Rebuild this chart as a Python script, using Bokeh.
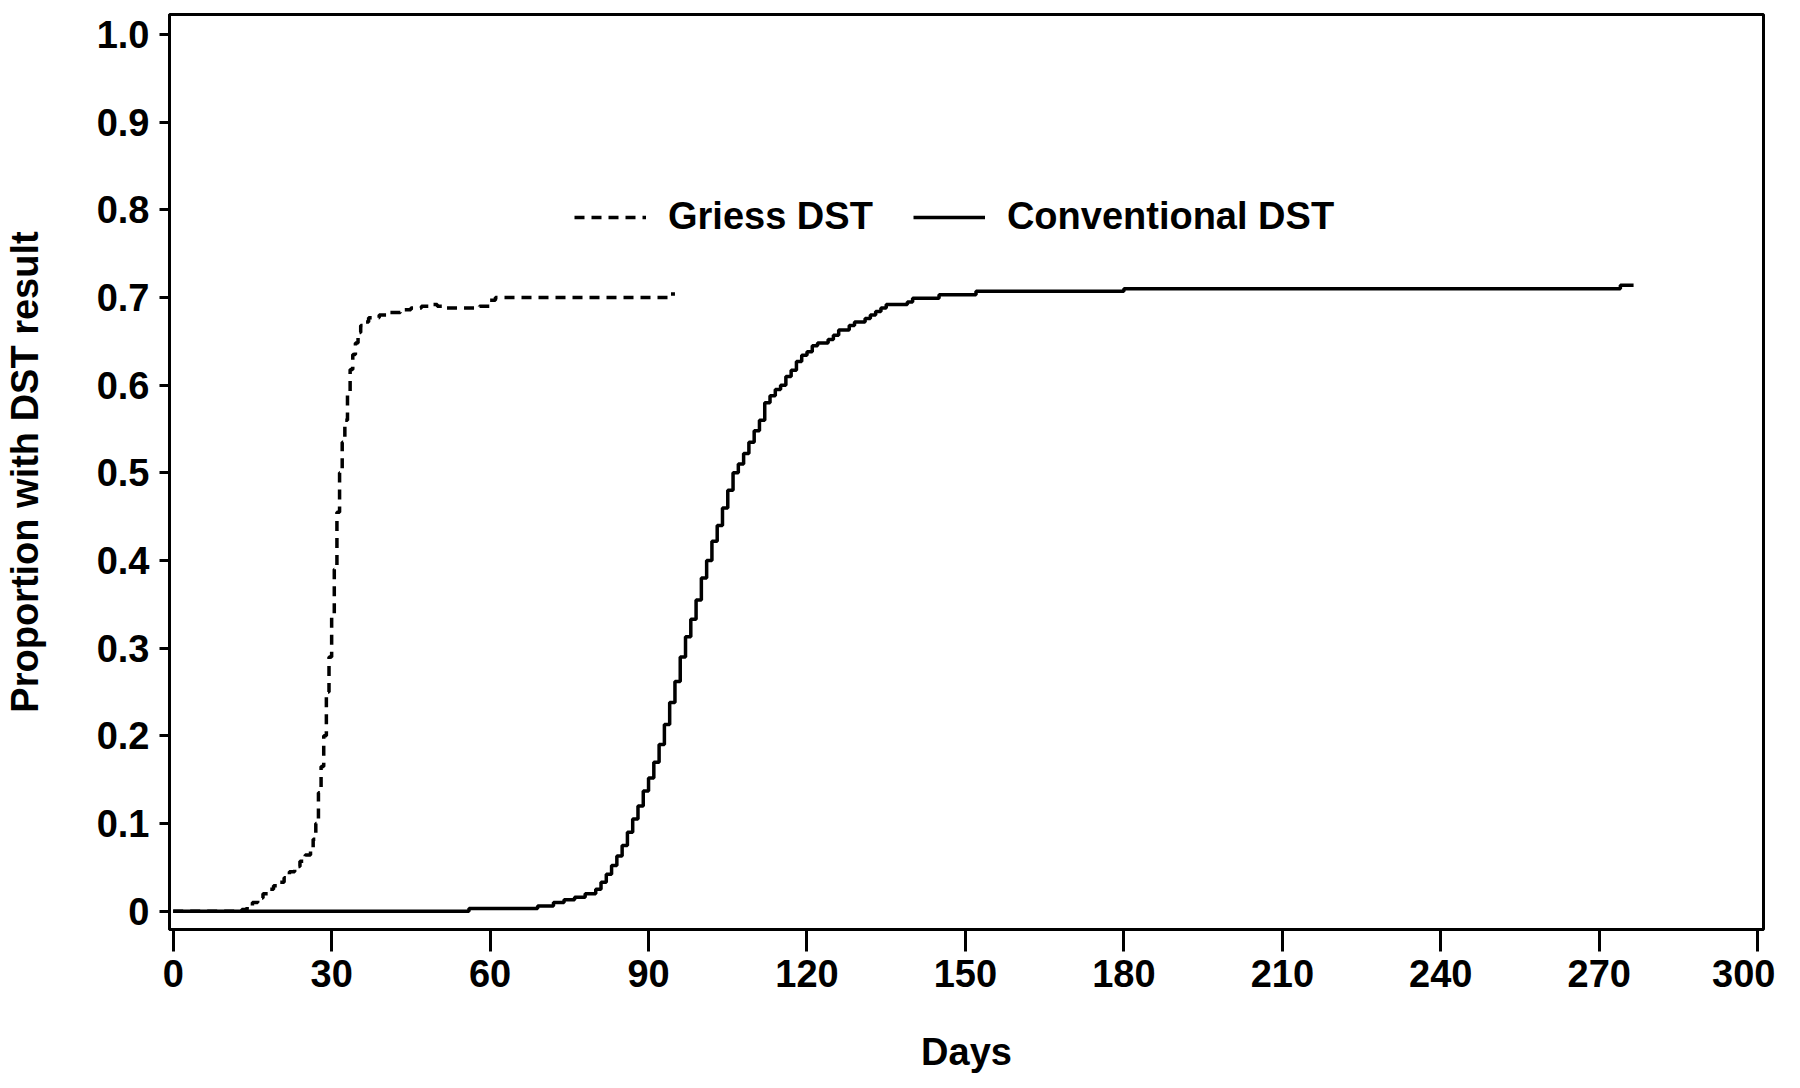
from bokeh.plotting import figure
from bokeh.models import Range1d, FixedTicker, Legend, LegendItem
from bokeh.embed import file_html
from bokeh.resources import INLINE

# ---- data (cumulative proportion with DST result) ----
griess_days = [0, 13, 14, 15, 16, 17, 18, 19, 20, 21, 22, 23, 24, 25, 26, 26.5,
               27, 27.5, 28, 28.5, 29, 29.5, 30, 30.5, 31, 31.5, 32, 32.5, 33,
               33.5, 34, 34.5, 35, 35.5, 36, 37, 39, 41, 43, 45, 47, 49, 50, 51,
               58, 60, 61, 94, 95]
griess_prop = [0, 0.002, 0.006, 0.010, 0.015, 0.020, 0.025, 0.029, 0.033, 0.038,
               0.045, 0.051, 0.057, 0.064, 0.072, 0.082, 0.100, 0.135, 0.165,
               0.200, 0.250, 0.290, 0.335, 0.390, 0.455, 0.500, 0.535, 0.560,
               0.590, 0.618, 0.635, 0.648, 0.660, 0.668, 0.672, 0.677, 0.680,
               0.683, 0.686, 0.688, 0.690, 0.692, 0.690, 0.688, 0.690, 0.697,
               0.700, 0.704, 0.704]

conv_days = [0, 56, 69, 72, 74, 76, 78, 80, 81, 82, 83, 84, 85, 86, 87, 88, 89,
             90, 91, 92, 93, 94, 95, 96, 97, 98, 99, 100, 101, 102, 103, 104,
             105, 106, 107, 108, 109, 110, 111, 112, 113, 114, 115, 116, 117,
             118, 119, 120, 121, 122, 124, 125, 126, 128, 129, 131, 132, 133,
             134, 135, 139, 140, 145, 152, 180, 274, 276.5]
conv_prop = [0, 0.003, 0.006, 0.010, 0.013, 0.016, 0.020, 0.025, 0.033, 0.042,
             0.052, 0.063, 0.075, 0.090, 0.105, 0.120, 0.137, 0.152, 0.170,
             0.190, 0.213, 0.238, 0.262, 0.290, 0.313, 0.333, 0.355, 0.380,
             0.400, 0.422, 0.440, 0.460, 0.480, 0.500, 0.510, 0.522, 0.535,
             0.548, 0.560, 0.580, 0.588, 0.595, 0.600, 0.610, 0.617, 0.627,
             0.634, 0.638, 0.645, 0.648, 0.652, 0.657, 0.663, 0.668, 0.672,
             0.676, 0.680, 0.684, 0.688, 0.692, 0.695, 0.699, 0.703, 0.707,
             0.710, 0.714, 0.714]

x_ticks = [0, 30, 60, 90, 120, 150, 180, 210, 240, 270, 300]
y_ticks = [0, 0.1, 0.2, 0.3, 0.4, 0.5, 0.6, 0.7, 0.8, 0.9, 1.0]
y_tick_labels = ["0", "0.1", "0.2", "0.3", "0.4", "0.5", "0.6", "0.7", "0.8", "0.9", "1.0"]
series_names = ["Griess DST", "Conventional DST"]

FONT = "Liberation Sans"
FS = "38px"

p = figure(frame_width=1594, frame_height=915,
           x_range=Range1d(-0.7, 301.1), y_range=Range1d(-0.0209, 1.0228),
           output_backend="svg", toolbar_location=None,
           min_border_left=168, min_border_top=14, min_border_right=12,
           min_border_bottom=2)

p.background_fill_color = "white"
p.border_fill_color = "white"
p.outline_line_color = "black"
p.outline_line_width = 3
p.xgrid.visible = False
p.ygrid.visible = False

r1 = p.step(griess_days, griess_prop, mode="after", line_width=3.5,
            line_color="black", line_dash="10 7")
r2 = p.step(conv_days, conv_prop, mode="after", line_width=3.5,
            line_color="black")

# axes
p.xaxis.ticker = FixedTicker(ticks=x_ticks)
p.yaxis.ticker = FixedTicker(ticks=y_ticks)
p.yaxis.major_label_overrides = {v: s for v, s in zip(y_ticks, y_tick_labels)}

for ax in (p.xaxis[0], p.yaxis[0]):
    ax.axis_line_color = "black"
    ax.axis_line_width = 3
    ax.major_tick_line_color = "black"
    ax.major_tick_line_width = 3
    ax.major_tick_in = 0
    ax.minor_tick_line_color = None
    ax.major_label_text_font = FONT
    ax.major_label_text_font_size = FS
    ax.major_label_text_font_style = "bold"
    ax.major_label_text_color = "black"
    ax.axis_label_text_font = FONT
    ax.axis_label_text_font_size = FS
    ax.axis_label_text_font_style = "bold"
    ax.axis_label_text_color = "black"

p.xaxis.major_tick_out = 22
p.xaxis.major_label_standoff = 8
p.xaxis.axis_label = "Days"
p.xaxis.axis_label_standoff = 41

p.yaxis.major_tick_out = 10
p.yaxis.major_label_standoff = 10
p.yaxis.axis_label = "Proportion with DST result"
p.yaxis.axis_label_standoff = 48

legend = Legend(items=[LegendItem(label=series_names[0], renderers=[r1]),
                       LegendItem(label=series_names[1], renderers=[r2])],
                orientation="horizontal", location=(405, 691),
                border_line_color=None, background_fill_alpha=0,
                label_text_font=FONT, label_text_font_size=FS,
                label_text_font_style="bold", label_text_color="black",
                glyph_width=72, glyph_height=40, label_standoff=22,
                spacing=40, padding=0, margin=0)
p.add_layout(legend)

open("out.html", "w").write(file_html(p, INLINE))
